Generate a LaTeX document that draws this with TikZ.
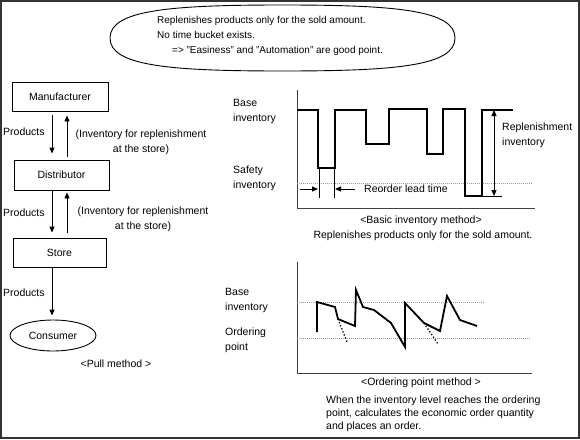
\documentclass[tikz,border=0pt]{standalone}
\usepackage{fontspec}
\setmainfont{Liberation Sans}
\usetikzlibrary{arrows.meta,shapes.geometric}
\newcommand{\dqmark}{\char34\relax}
\begin{document}
\begin{tikzpicture}[x=1pt,y=-1pt,
  txt/.style={inner sep=0pt, font=\fontsize{10.5}{15}\selectfont},
  notetxt/.style={inner sep=0pt, font=\fontsize{10}{15}\selectfont, align=left},
  box/.style={draw, line width=0.9pt, inner sep=0pt, font=\fontsize{10.5}{15}\selectfont},
  flow/.style={line width=0.9pt, -{Triangle[length=6pt,width=5pt]}},
  twoway/.style={line width=0.9pt, {Triangle[length=6pt,width=5pt]}-{Triangle[length=6pt,width=5pt]}},
  wave/.style={line width=1.8pt, line join=miter},
  axis/.style={line width=1pt, draw=black!75},
  guide/.style={line width=1pt, draw=black!40, densely dotted},
  thin/.style={line width=0.8pt}
]
\useasboundingbox (0,0) rectangle (580,439);
\draw[line width=2pt, draw=black!80] (1,1) rectangle (579,438);

% top note
\draw[line width=0.9pt] (110,38) .. controls (110,10) and (170,5) .. (282.5,5) .. controls (395,5) and (455,10) .. (455,38) .. controls (455,66) and (395,71) .. (282.5,71) .. controls (170,71) and (110,66) .. (110,38) -- cycle;
\node[notetxt, anchor=west] (note) at (157,36) {Replenishes products only for the sold amount.\\No time bucket exists.\\\hspace*{15pt}=> \dqmark Easiness\dqmark{} and \dqmark Automation\dqmark{} are good point.};

% pull method chain
\coordinate (dx) at (52,0);
\coordinate (ux) at (67,0);
\node[box, minimum width=96pt, minimum height=29pt] (man) at (60,96.5) {Manufacturer};
\node[box, minimum width=95pt, minimum height=30pt] (dist) at (61.5,175) {Distributor};
\node[box, minimum width=93pt, minimum height=29pt] (store) at (59.5,252.5) {Store};
\node[draw, ellipse, line width=0.9pt, minimum width=86pt, minimum height=31pt, inner sep=0pt, font=\fontsize{10.5}{15}\selectfont] (cons) at (53,335.5) {Consumer};

\draw[flow, shorten <=4pt, shorten >=6pt] (man.south -| dx) -- (dist.north -| dx);
\draw[flow, shorten <=3pt, shorten >=4pt] (dist.north -| ux) -- (man.south -| ux);
\draw[flow, shorten >=5pt] (dist.south -| dx) -- (store.north -| dx);
\draw[flow, shorten <=5pt, shorten >=2pt] (store.north -| ux) -- (dist.south -| ux);
\draw[flow, shorten >=4pt] (store.south -| dx) -- (cons.north -| dx);

\node[txt, anchor=west] (p1) at (3,132) {Products};
\node[txt, anchor=west] (p2) at (3,213) {Products};
\node[txt, anchor=west] (p3) at (3,293) {Products};
\node[txt, align=center] (inv1) at (141,142) {(Inventory for replenishment\\at the store)};
\node[txt, align=center] (inv2) at (143,219) {(Inventory for replenishment\\at the store)};
\node[txt] (pull) at (116,364) {<Pull method >};

% basic inventory chart
\draw[axis] (297,90) -- (297,208) -- (535,208);
\draw[guide] (297,183) -- (533,183);
\draw[wave] (297,110) -- (318,110) -- (318,168) -- (335,168) -- (335,110) -- (366,110) -- (366,144) -- (389,144) -- (389,109) -- (427,109) -- (427,154) -- (443,154) -- (443,109) -- (465,109) -- (465,196) -- (482,196) -- (482,110) -- (513,110);
\draw[thin] (482,196) -- (502,196);
\draw[twoway] (494,110) -- (494,196);
\draw[thin] (319,168) -- (319,198);
\draw[thin] (334,168) -- (334,198);
\draw[flow] (300,189) -- (318,189);
\draw[flow] (355,189) -- (335,189);
\node[txt, align=left, anchor=west] (bi1) at (233,111) {Base\\inventory};
\node[txt, align=left, anchor=west] (si1) at (233,178.5) {Safety\\inventory};
\node[txt, align=left, anchor=west] (ri1) at (502,135) {Replenishment\\inventory};
\node[txt, anchor=west] (rlt) at (364,189) {Reorder lead time};
\node[txt] (bim) at (421,221) {<Basic inventory method>};
\node[txt] (bimd) at (423,236) {Replenishes products only for the sold amount.};

% ordering point chart
\draw[axis] (297,262) -- (297,373) -- (532,373);
\draw[guide] (297,302) -- (485,302);
\draw[guide] (297,338) -- (530,338);
\draw[wave] (317,332) -- (317,302) -- (335,307) -- (338,319) -- (355,326) -- (356,290) -- (363,307) -- (374,310) -- (391,323) -- (405,347) -- (405,303) -- (424,323) -- (440,331) -- (447,296) -- (460,320) -- (477,326);
\draw[line width=1.3pt, dotted] (338,319) -- (347,342);
\draw[line width=1.3pt, dotted] (424,323) -- (438,344);
\node[txt, align=left, anchor=west] (bi2) at (225,300.5) {Base\\inventory};
\node[txt, align=left, anchor=west] (op2) at (225,340.5) {Ordering\\point};
\node[txt] (opm) at (421,383) {<Ordering point method >};
\node[txt, align=left, anchor=west, font=\fontsize{10.5}{13}\selectfont] (opmd) at (326,414) {When the inventory level reaches the ordering\\point, calculates the economic order quantity\\and places an order.};
\end{tikzpicture}
\end{document}
